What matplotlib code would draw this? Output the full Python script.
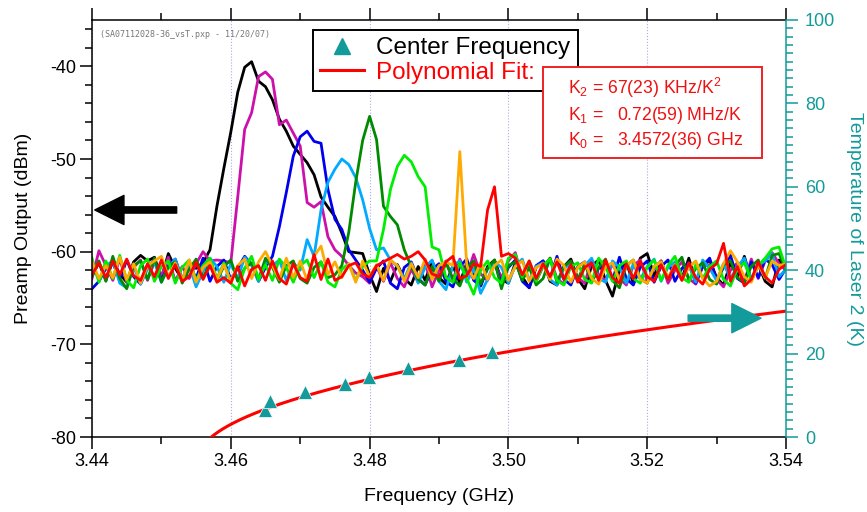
import numpy as np
import matplotlib.pyplot as plt
from matplotlib.lines import Line2D
from matplotlib.patches import Rectangle
from matplotlib.ticker import MultipleLocator, FormatStrFormatter

plt.rcParams['font.family'] = ['Liberation Sans', 'DejaVu Sans']
plt.rcParams['mathtext.fontset'] = 'custom'
plt.rcParams['mathtext.rm'] = 'Liberation Sans'
plt.rcParams['mathtext.it'] = 'Liberation Sans:italic'
plt.rcParams['axes.unicode_minus'] = False

# spectrum analyzer sweep, 3.44 - 3.54 GHz, 101 points
freq_ghz = np.linspace(3.44, 3.54, 101)

black = [-62.6, -61.2, -63.1, -61.0, -62.4, -63.3, -61.1, -60.4, -61.0, -60.6,
         -62.9, -60.2, -61.8, -63.0, -61.4, -61.8, -61.2, -59.8, -55.1, -51.0,
         -47.1, -42.8, -40.1, -39.5, -41.6, -42.2, -43.6, -45.7, -47.0, -48.6,
         -49.5, -50.4, -51.7, -54.1, -55.2, -56.2, -58.0, -60.0, -60.1, -60.2,
         -62.5, -64.3, -61.8, -63.2, -61.4, -62.9, -63.6, -61.6, -63.1, -61.0,
         -62.8, -63.5, -61.5, -63.4, -61.2, -62.6, -63.7, -61.6, -60.9, -63.0,
         -63.4, -61.2, -62.7, -63.9, -61.7, -61.0, -63.2, -63.6, -61.6, -60.8,
         -62.9, -64.0, -61.5, -60.9, -63.1, -64.8, -62.0, -61.2, -63.4, -60.7,
         -60.2, -62.6, -61.0, -63.1, -61.3, -62.9, -60.7, -63.3, -61.6, -60.9,
         -62.8, -63.6, -61.2, -62.7, -60.5, -63.1, -61.4, -63.2, -63.8, -60.9,
         -62.0]
magenta = [-62.9, -59.9, -61.5, -63.1, -60.8, -63.3, -61.7, -60.9, -63.1, -61.1,
           -62.6, -60.6, -63.2, -61.6, -62.9, -61.3, -60.0, -61.0, -60.9, -61.0,
           -61.2, -54.1, -46.8, -45.0, -41.1, -40.6, -41.4, -46.3, -45.8, -47.2,
           -48.6, -54.7, -55.2, -54.6, -58.4, -59.8, -60.5, -61.5, -62.3, -62.7,
           -63.4, -61.6, -63.2, -61.2, -62.9, -63.8, -61.9, -63.3, -61.2, -63.8,
           -62.0, -61.0, -63.1, -60.8, -62.6, -60.3, -62.4, -63.1, -61.4, -62.8,
           -61.0, -60.1, -62.9, -61.3, -63.2, -61.6, -60.7, -62.9, -63.5, -61.2,
           -62.8, -63.4, -60.9, -62.5, -63.1, -61.3, -62.9, -63.6, -61.5, -60.9,
           -63.2, -61.8, -61.0, -63.4, -62.0, -61.1, -62.9, -63.5, -61.6, -61.4,
           -63.0, -63.8, -62.0, -61.2, -63.2, -60.8, -62.9, -61.0, -60.1, -61.3,
           -62.0]
blue = [-64.0, -63.2, -61.8, -61.2, -63.0, -60.9, -62.7, -63.5, -61.6, -60.9,
        -63.1, -61.5, -60.8, -63.0, -61.3, -62.9, -60.7, -63.2, -61.6, -60.9,
        -63.0, -61.8, -60.5, -61.4, -63.2, -61.7, -60.5, -57.3, -53.6, -49.7,
        -47.6, -47.0, -48.1, -48.3, -53.3, -56.5, -57.6, -59.8, -60.9, -62.0,
        -63.3, -61.8, -61.0, -63.4, -64.0, -61.7, -61.1, -62.9, -63.6, -61.9,
        -61.3, -63.2, -63.8, -61.6, -60.8, -63.1, -63.7, -61.8, -61.2, -63.4,
        -61.7, -60.9, -63.2, -63.9, -61.5, -61.0, -62.9, -60.5, -63.0, -63.6,
        -61.6, -61.1, -63.3, -61.8, -61.3, -63.1, -60.6, -62.9, -63.6, -61.7,
        -61.0, -63.3, -61.6, -60.9, -63.2, -61.8, -61.2, -63.4, -61.5, -60.7,
        -63.1, -61.7, -60.4, -62.9, -63.4, -61.1, -62.8, -60.8, -61.4, -63.0,
        -61.8]
light_blue = [-61.3, -63.1, -61.5, -61.0, -63.4, -63.9, -61.6, -63.5, -61.9, -61.1,
              -63.3, -61.7, -60.8, -63.0, -61.5, -63.8, -62.1, -60.7, -61.6, -63.3,
              -61.3, -62.9, -60.6, -61.5, -63.2, -61.0, -61.5, -60.9, -63.1, -61.2,
              -62.0, -58.7, -60.5, -55.5, -52.5, -51.1, -50.0, -50.6, -52.0, -54.4,
              -57.5, -59.8, -59.6, -60.9, -61.6, -62.9, -61.2, -63.4, -61.7, -60.9,
              -63.2, -64.1, -61.5, -61.0, -63.3, -61.8, -64.5, -63.0, -61.1, -61.7,
              -63.4, -61.5, -60.8, -63.1, -61.6, -61.2, -63.0, -63.6, -61.8, -61.3,
              -63.2, -61.5, -60.7, -62.9, -63.3, -61.0, -61.7, -63.4, -61.3, -63.0,
              -61.6, -60.8, -63.2, -61.7, -61.1, -62.9, -61.5, -63.3, -60.9, -61.8,
              -63.1, -61.3, -62.9, -61.6, -60.7, -63.0, -61.5, -61.0, -60.2, -62.7,
              -61.9]
green = [-62.7, -61.0, -63.2, -60.5, -62.9, -64.0, -61.5, -61.0, -63.0, -60.7,
         -63.3, -61.6, -61.1, -63.4, -61.9, -60.8, -62.8, -61.3, -63.1, -61.6,
         -60.9, -63.2, -61.8, -61.2, -63.0, -60.7, -61.7, -63.3, -61.5, -61.0,
         -62.9, -63.4, -61.7, -61.1, -62.8, -62.5, -61.5, -57.9, -52.5, -48.0,
         -45.4, -47.9, -55.1, -56.2, -57.1, -59.8, -61.6, -63.0, -63.6, -61.6,
         -63.2, -61.2, -62.9, -63.7, -61.7, -61.0, -63.5, -61.8, -60.9, -64.0,
         -61.5, -61.1, -63.1, -61.7, -63.6, -62.9, -60.7, -63.3, -61.6, -61.0,
         -63.0, -61.3, -63.2, -61.7, -60.8, -63.1, -63.9, -61.5, -60.9, -62.9,
         -63.4, -61.6, -61.1, -63.0, -61.5, -60.6, -63.1, -61.8, -61.2, -63.0,
         -63.5, -61.4, -61.0, -62.8, -63.3, -61.6, -60.9, -62.9, -60.4, -60.2,
         -62.0]
lime = [-60.7, -63.3, -61.0, -62.9, -60.4, -63.1, -63.9, -61.5, -60.8, -63.2,
        -61.6, -61.0, -63.4, -61.7, -60.9, -63.1, -61.5, -60.7, -62.9, -61.2,
        -63.4, -64.1, -61.8, -60.5, -63.0, -61.4, -63.1, -60.8, -61.7, -63.3,
        -61.5, -60.9, -62.8, -61.1, -63.3, -63.8, -61.9, -61.3, -63.1, -61.6,
        -61.0, -61.0, -57.6, -53.3, -50.8, -49.6, -50.3, -51.9, -53.0, -59.5,
        -59.8, -62.8, -63.3, -61.2, -62.9, -64.6, -62.0, -61.0, -62.8, -63.4,
        -60.7, -60.3, -62.7, -61.0, -63.2, -61.5, -60.8, -63.1, -63.6, -61.6,
        -61.2, -63.0, -63.4, -60.7, -61.7, -63.2, -61.5, -61.0, -62.9, -63.4,
        -61.7, -60.9, -63.1, -61.5, -60.5, -62.8, -63.3, -61.4, -62.9, -61.6,
        -61.0, -63.0, -63.7, -61.8, -61.2, -63.1, -61.5, -60.7, -59.7, -59.5,
        -61.8]
orange = [-61.1, -62.9, -61.5, -62.8, -60.6, -63.0, -61.3, -63.4, -61.5, -61.0,
          -60.5, -62.7, -61.2, -63.1, -60.9, -63.3, -61.7, -61.1, -63.0, -61.4,
          -63.2, -61.5, -60.8, -62.9, -61.1, -60.0, -61.5, -63.0, -60.7, -62.8,
          -61.0, -63.1, -60.5, -59.4, -62.5, -61.1, -62.8, -61.3, -63.3, -61.0,
          -62.7, -61.4, -63.1, -60.9, -61.5, -63.2, -61.3, -62.8, -60.8, -63.0,
          -61.5, -61.1, -61.5, -49.2, -61.5, -62.9, -61.2, -63.0, -61.5, -60.9,
          -63.1, -61.6, -61.0, -63.2, -61.7, -61.3, -63.0, -60.8, -61.5, -63.3,
          -61.7, -61.1, -62.9, -63.5, -61.6, -61.2, -63.1, -61.5, -60.9, -63.0,
          -63.4, -61.6, -61.1, -62.8, -61.4, -63.1, -61.7, -61.0, -62.9, -63.7,
          -63.2, -61.3, -59.9, -61.1, -62.7, -63.3, -61.4, -62.8, -61.0, -61.5,
          -61.3]
red = [-62.5, -61.2, -62.8, -61.0, -62.5, -60.8, -62.6, -63.1, -61.3, -62.7,
       -60.9, -62.9, -61.4, -63.2, -62.7, -61.1, -63.0, -61.5, -63.3, -62.8,
       -63.4, -61.6, -63.7, -61.9, -61.5, -63.1, -61.0, -62.9, -63.5, -61.3,
       -62.8, -63.2, -60.3, -63.0, -60.8, -63.1, -62.7, -61.5, -61.2, -62.4,
       -62.8, -61.5, -61.1, -60.7, -60.3, -60.8, -60.5, -60.0, -60.9, -62.4,
       -62.7, -61.1, -60.5, -62.9, -62.6, -61.3, -61.6, -55.5, -53.0, -60.5,
       -60.2, -60.7, -62.5, -61.0, -62.9, -61.3, -62.7, -61.1, -63.0, -61.4,
       -63.3, -61.7, -61.2, -63.1, -60.9, -62.8, -63.4, -61.3, -62.9, -61.0,
       -62.7, -63.2, -61.4, -63.0, -61.5, -63.1, -61.2, -62.8, -63.5, -61.9,
       -61.3, -59.1, -63.2, -61.6, -63.7, -63.0, -61.1, -62.7, -63.4, -61.9,
       -61.4]

spectra = [black, magenta, blue, light_blue, green, lime, orange, red]
colors = ['#000000', '#cc11aa', '#0000ee', '#00aaff', '#008a00', '#00ee00', '#ffaa00', '#ff0000']

# center frequency (GHz) vs laser temperature (K)
center_freq = [3.4649, 3.4656, 3.4707, 3.4765, 3.4799, 3.4855, 3.4929, 3.4976]
laser_temp = [6.5, 8.6, 10.8, 12.7, 14.4, 16.5, 18.5, 20.4]

# polynomial fit coefficients
K0 = 3.4572   # GHz
K1 = 0.72     # MHz/K
K2 = 67       # KHz/K^2

teal = '#139a9a'
W, H = 867, 512

fig = plt.figure(figsize=(W / 100, H / 100), dpi=100)
ax = fig.add_axes([92 / W, 1 - 437 / H, (786 - 92) / W, (437 - 20) / H])

for vals, c in zip(spectra, colors):
    ax.plot(freq_ghz, vals, color=c, lw=2.0)

ax.set_xlim(3.44, 3.54)
ax.set_ylim(-80, -35)
ax.xaxis.set_major_locator(MultipleLocator(0.02))
ax.xaxis.set_minor_locator(MultipleLocator(0.01))
ax.xaxis.set_major_formatter(FormatStrFormatter('%.2f'))
ax.yaxis.set_major_locator(MultipleLocator(10))
ax.yaxis.set_minor_locator(MultipleLocator(2))
ax.tick_params(which='both', direction='out', top=True, right=False, labelsize=13, width=1.1)
ax.tick_params(which='major', length=8.5, pad=3)
ax.tick_params(which='minor', length=5)
ax.grid(axis='x', which='major', linestyle=':', color='#aaaaee', lw=0.8)
for s in ['left', 'bottom', 'top']:
    ax.spines[s].set_linewidth(1.1)
ax.spines['right'].set_visible(False)
ax.set_xlabel('Frequency (GHz)', fontsize=14, labelpad=13)
ax.set_ylabel('Preamp Output (dBm)', fontsize=14, labelpad=13)

ax.annotate('', xy=(3.4404, -55.5), xytext=(3.4522, -55.5),
            arrowprops=dict(width=4.5, headwidth=21, headlength=21, color='black', shrink=0))
ax.text(0.012, 0.975, '(SA07112028-36_vsT.pxp - 11/20/07)', transform=ax.transAxes,
        fontsize=6, family='DejaVu Sans Mono', color='#777777', va='top')

ax2 = ax.twinx()
temps = np.linspace(0, 32, 300)
fit_freq = K0 + K1 * 1e-3 * temps + K2 * 1e-6 * temps ** 2
ax2.plot(fit_freq, temps, color='#ff0000', lw=2.2)
ax2.plot(center_freq, laser_temp, linestyle='none', marker='^', ms=9.5,
         color=teal, markeredgecolor='white', markeredgewidth=0.5)
ax2.set_xlim(3.44, 3.54)
ax2.set_ylim(0, 100)
ax2.yaxis.set_major_locator(MultipleLocator(20))
ax2.yaxis.set_minor_locator(MultipleLocator(2))
ax2.tick_params(axis='y', which='both', direction='out', colors=teal, labelsize=13, width=1.1)
ax2.tick_params(axis='y', which='major', length=8.5, pad=5)
ax2.tick_params(axis='y', which='minor', length=5)
for s in ['left', 'bottom', 'top']:
    ax2.spines[s].set_visible(False)
ax2.spines['right'].set_color(teal)
ax2.spines['right'].set_linewidth(1.1)
ax2.set_ylabel('Temperature of Laser 2 (K)', fontsize=14, color=teal, rotation=270, labelpad=20)

ax2.annotate('', xy=(3.5364, 28.5), xytext=(3.5259, 28.5),
             arrowprops=dict(width=4.5, headwidth=21, headlength=21, color=teal, shrink=0))

handles = [Line2D([], [], linestyle='none', marker='^', ms=11, color=teal),
           Line2D([], [], color='#ff0000', lw=2.2)]
leg = ax2.legend(handles, ['Center Frequency', 'Polynomial Fit:'], loc='upper left',
                 bbox_to_anchor=(313 / W, 1 - 30 / H), bbox_transform=fig.transFigure,
                 fontsize=17.5, frameon=True, fancybox=False, framealpha=1,
                 edgecolor='black', borderpad=0.3, labelspacing=0.1,
                 handlelength=1.8, handletextpad=0.5, borderaxespad=0)
leg.get_frame().set_linewidth(1.4)
leg.get_texts()[1].set_color('#ff0000')

box = Rectangle((543 / W, 1 - 158 / H), (762 - 543) / W, (158 - 67) / H,
                transform=fig.transFigure, facecolor='white', edgecolor='#ee2222', lw=1.4)
fig.add_artist(box)
fit_lines = ['K$_2$ = 67(23) KHz/K$^2$',
             'K$_1$ =   0.72(59) MHz/K',
             'K$_0$ =   3.4572(36) GHz']
for line, yb in zip(fit_lines, [93.5, 119.5, 145]):
    fig.text(568 / W, 1 - yb / H, line, fontsize=12.7, color='#ee1111', va='baseline')

fig.savefig('out.png', dpi=100)
